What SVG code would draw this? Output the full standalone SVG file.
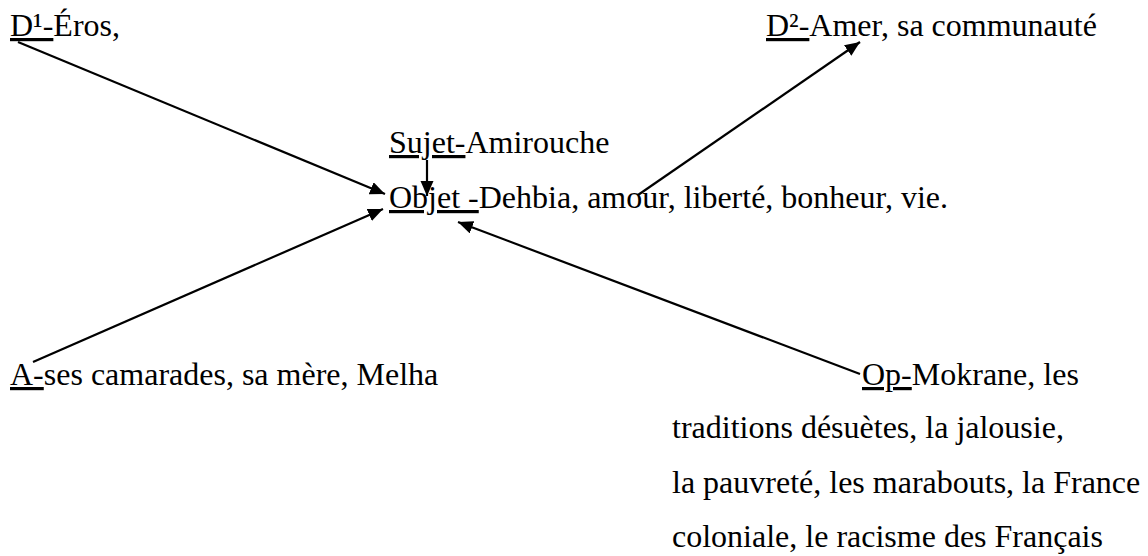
<svg xmlns="http://www.w3.org/2000/svg" width="1148" height="556" viewBox="0 0 1148 556">
<style>
text { font-family: "Liberation Serif", "Times New Roman", serif; font-size: 32px; fill: #000; }
.u { text-decoration: underline; }
.c { stroke: #000; stroke-width: 2.2; fill: none; marker-end: url(#ah); }
</style>
<defs>
<marker id="ah" markerUnits="userSpaceOnUse" markerWidth="16" markerHeight="14" refX="15" refY="6.5" orient="auto">
<path d="M0,0 L15,6.5 L0,13 z" fill="#000"/>
</marker>
</defs>
<rect width="1148" height="556" fill="#fff"/>
<g id="d1"><text x="10" y="36"><tspan class="u">D¹-</tspan>Éros,</text></g>
<g id="d2"><text x="766" y="36"><tspan class="u">D²-</tspan>Amer, sa communauté</text></g>
<g id="sujet"><text x="389" y="153"><tspan class="u">Sujet-</tspan>Amirouche</text></g>
<g id="objet"><text x="389" y="208"><tspan class="u">Objet -</tspan>Dehbia, amour, liberté, bonheur, vie.</text></g>
<g id="adjuvant"><text x="10" y="385"><tspan class="u">A-</tspan>ses camarades, sa mère, Melha</text></g>
<g id="opposant">
<text x="862" y="385"><tspan class="u">Op-</tspan>Mokrane, les</text>
<text x="672" y="438">traditions désuètes, la jalousie,</text>
<text x="672" y="493">la pauvreté, les marabouts, la France</text>
<text x="672" y="547">coloniale, le racisme des Français</text>
</g>
<g id="connectors">
<line class="c" x1="18" y1="42" x2="385" y2="194"/>
<line class="c" x1="33" y1="362" x2="383" y2="209"/>
<line class="c" x1="860" y1="374" x2="458" y2="222"/>
<line class="c" x1="427" y1="160" x2="427" y2="196"/>
<line class="c" x1="638" y1="195" x2="860" y2="42"/>
</g>
</svg>
